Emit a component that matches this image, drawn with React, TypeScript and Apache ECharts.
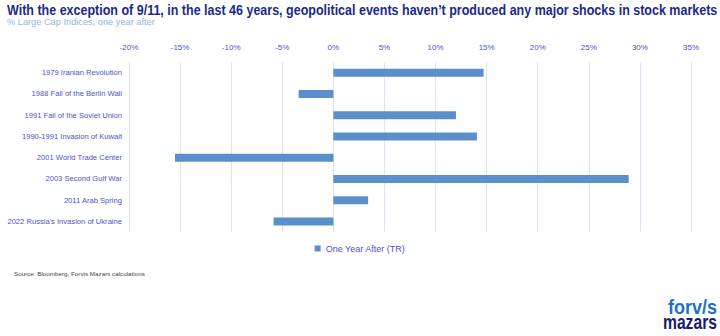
import React, { useEffect, useRef } from "react";
import * as echarts from "echarts";

const categories = [
  "1979 Iranian Revolution",
  "1988 Fall of the Berlin Wall",
  "1991 Fall of the Soviet Union",
  "1990-1991 Invasion of Kuwait",
  "2001 World Trade Center",
  "2003 Second Gulf War",
  "2011 Arab Spring",
  "2022 Russia's Invasion of Ukraine",
];
const oneYearAfter = [14.7, -3.4, 12.0, 14.05, -15.5, 28.9, 3.4, -5.85];
const seriesName = "One Year After (TR)";
const titleText =
  "With the exception of 9/11, in the last 46 years, geopolitical events haven\u2019t produced any major shocks in stock markets";
const subtitleText = "% Large Cap Indices, one year after";
const sourceText = "Source: Bloomberg, Forvis Mazars calculations";

const sans = "'Liberation Sans', Arial, sans-serif";
const labelColor = "#4d52c8";

function measure(text: string, font: string): number {
  const c = document.createElement("canvas").getContext("2d");
  if (!c) return text.length * 6;
  c.font = font;
  return c.measureText(text).width;
}

export default function App() {
  const ref = useRef<HTMLDivElement>(null);
  useEffect(() => {
    if (!ref.current) return;
    const chart = echarts.init(ref.current, undefined, { renderer: "svg" });
    const titleW = measure(titleText, "bold 14px 'Liberation Sans'");
    const subW = measure(subtitleText, "9px 'Liberation Sans'");
    const srcW = measure(sourceText, "6px 'Liberation Sans'");
    const logoW1 = measure("forv/s", "bold 20px 'Liberation Sans'");
    const logoW2 = measure("mazars", "bold 20px 'Liberation Sans'");
    chart.setOption({
      animation: false,
      backgroundColor: "#ffffff",
      legend: {
        data: [seriesName],
        bottom: 78,
        left: "center",
        itemWidth: 6,
        itemHeight: 6,
        itemGap: 3,
        icon: "rect",
        textStyle: { fontFamily: sans, fontSize: 9, color: labelColor },
      },
      grid: { left: 129, right: 29, top: 62, bottom: 104, containLabel: false },
      xAxis: {
        type: "value",
        position: "top",
        min: -20,
        max: 35,
        interval: 5,
        axisLine: { show: false },
        axisTick: { show: false },
        axisLabel: {
          formatter: (v: number) => v + "%",
          fontFamily: sans,
          fontSize: 8,
          color: labelColor,
          margin: 11,
        },
        splitLine: { show: true, lineStyle: { color: "#dfe2f0", width: 1 } },
      },
      yAxis: {
        type: "category",
        data: categories,
        inverse: true,
        axisLine: { show: false },
        axisTick: { show: false },
        axisLabel: { fontFamily: sans, fontSize: 7.6, color: labelColor, margin: 7 },
      },
      series: [
        {
          name: seriesName,
          type: "bar",
          data: oneYearAfter,
          barWidth: 8,
          itemStyle: { color: "#5b8fcc" },
        },
      ],
      graphic: [
        {
          type: "text",
          x: 7,
          y: 3,
          scaleX: 711 / titleW,
          style: { text: titleText, font: "bold 14px 'Liberation Sans'", fill: "#1b2a8a" },
        },
        {
          type: "text",
          x: 7,
          y: 17.5,
          scaleX: 148 / subW,
          style: { text: subtitleText, font: "9px 'Liberation Sans'", fill: "#8fb6e2" },
        },
        {
          type: "text",
          x: 14,
          y: 271,
          scaleX: 131 / srcW,
          style: { text: sourceText, font: "6px 'Liberation Sans'", fill: "#444444" },
        },
        {
          type: "text",
          x: 717 - 49,
          y: 297,
          scaleX: 49 / logoW1,
          style: { text: "forv/s", font: "bold 20px 'Liberation Sans'", fill: "#1f72c8" },
        },
        {
          type: "text",
          x: 717 - 54,
          y: 312,
          scaleX: 54 / logoW2,
          style: { text: "mazars", font: "bold 20px 'Liberation Sans'", fill: "#17206e" },
        },
      ],
    });
    return () => chart.dispose();
  }, []);
  return <div ref={ref} style={{ width: 720, height: 336, position: "absolute", left: 0, top: 0 }} />;
}
